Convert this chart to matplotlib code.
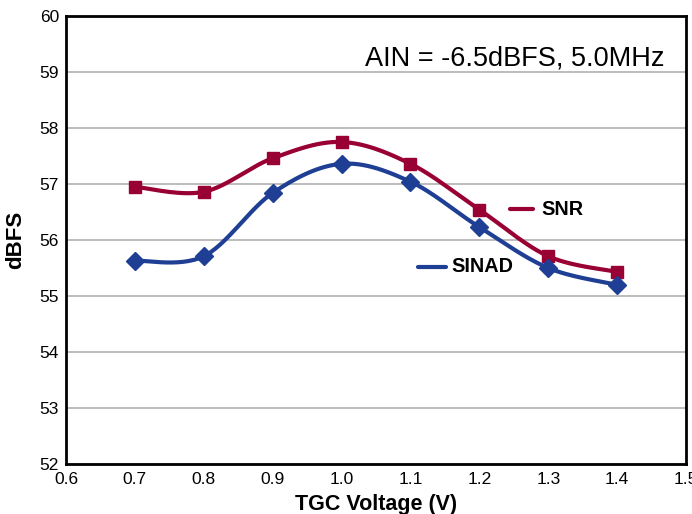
import numpy as np
import matplotlib.pyplot as plt

plt.rcParams['font.family'] = ['Liberation Sans', 'DejaVu Sans']

# data
tgc = [0.7, 0.8, 0.9, 1.0, 1.1, 1.2, 1.3, 1.4]
snr = [56.95, 56.86, 57.46, 57.75, 57.36, 56.54, 55.71, 55.43]
sinad = [55.63, 55.71, 56.84, 57.36, 57.04, 56.23, 55.50, 55.20]
xticks = [0.6, 0.7, 0.8, 0.9, 1.0, 1.1, 1.2, 1.3, 1.4, 1.5]
yticks = [52, 53, 54, 55, 56, 57, 58, 59, 60]

snr_color = '#990033'
sinad_color = '#1f3f94'


def smooth(x, y, n=30):
    # Excel-like smoothed line (Catmull-Rom as cubic Bezier segments)
    p = np.column_stack([x, y])
    pts = [p[0]] + list(p) + [p[-1]]
    out = []
    for i in range(1, len(pts) - 2):
        p0, p1, p2, p3 = pts[i - 1], pts[i], pts[i + 1], pts[i + 2]
        c1 = p1 + (p2 - p0) / 6
        c2 = p2 - (p3 - p1) / 6
        t = np.linspace(0, 1, n)[:, None]
        seg = ((1 - t) ** 3) * p1 + 3 * ((1 - t) ** 2) * t * c1 + 3 * (1 - t) * t ** 2 * c2 + t ** 3 * p2
        out.append(seg)
    out = np.vstack(out)
    return out[:, 0], out[:, 1]


fig = plt.figure(figsize=(6.92, 5.14), dpi=100)
ax = fig.add_axes([0.0954, 0.0973, 0.896, 0.8716])

sx, sy = smooth(tgc, snr)
ax.plot(sx, sy, color=snr_color, lw=3, solid_capstyle='round')
ax.plot(tgc, snr, 's', color=snr_color, ms=9)

bx, by = smooth(tgc, sinad)
ax.plot(bx, by, color=sinad_color, lw=3, solid_capstyle='round')
ax.plot(tgc, sinad, 'D', color=sinad_color, ms=9)

ax.set_xlim(0.6, 1.5)
ax.set_ylim(52, 60)
ax.set_xticks(xticks)
ax.set_xticklabels(['%.1f' % v for v in xticks])
ax.set_yticks(yticks)
ax.tick_params(length=0, labelsize=12.5)
ax.tick_params(axis='x', pad=6)
ax.tick_params(axis='y', pad=5)
ax.yaxis.grid(True, color='#b0b0b0', lw=1.2)
ax.set_axisbelow(True)
for s in ax.spines.values():
    s.set_linewidth(2)
    s.set_color('black')

ax.set_xlabel('TGC Voltage (V)', fontsize=15.5, fontweight='bold', labelpad=5)
ax.set_ylabel('dBFS', fontsize=16, fontweight='bold', labelpad=10)

# inline legend labels
ax.plot([1.245, 1.278], [56.55, 56.55], color=snr_color, lw=3, solid_capstyle='round')
ax.text(1.290, 56.55, 'SNR', fontsize=14.3, fontweight='bold', va='center')
ax.plot([1.111, 1.152], [55.52, 55.52], color=sinad_color, lw=3, solid_capstyle='round')
ax.text(1.160, 55.52, 'SINAD', fontsize=14.3, fontweight='bold', va='center')

ax.text(0.966, 0.935, 'AIN = -6.5dBFS, 5.0MHz', transform=ax.transAxes,
        fontsize=19.5, ha='right', va='top')

fig.savefig('out.png', dpi=100)
